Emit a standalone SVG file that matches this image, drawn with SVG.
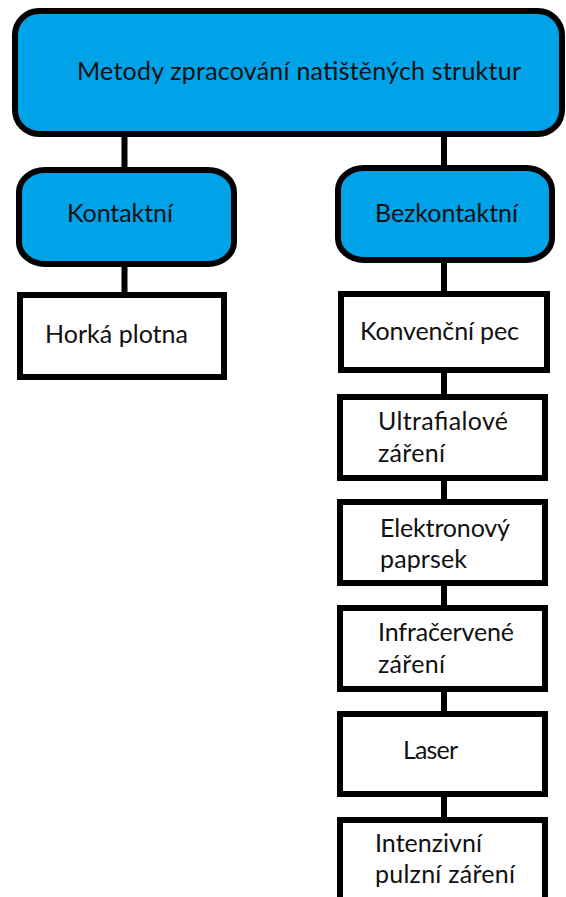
<svg xmlns="http://www.w3.org/2000/svg" width="566" height="897" viewBox="0 0 566 897">
  <style>
    .blue { fill: #00A2E8; stroke: #000; stroke-width: 6; }
    .plain { fill: #fff; stroke: #000; stroke-width: 6; }
    .wire { stroke: #000; stroke-width: 6; fill: none; }
    text { font-family: Lato, "Open Sans", "Liberation Sans", sans-serif; font-size: 25px; fill: #111; }
  </style>
  <rect width="566" height="897" fill="#fff"/>

  <g id="connectors">
    <line class="wire" x1="124.5" y1="134" x2="124.5" y2="170"/>
    <line class="wire" x1="444" y1="134" x2="444" y2="168"/>
    <line class="wire" x1="124.5" y1="264" x2="124.5" y2="295"/>
    <line class="wire" x1="444" y1="260" x2="444" y2="294"/>
    <line class="wire" x1="444" y1="370" x2="444" y2="397"/>
    <line class="wire" x1="444" y1="478" x2="444" y2="502"/>
    <line class="wire" x1="444" y1="583" x2="444" y2="608"/>
    <line class="wire" x1="444" y1="689" x2="444" y2="714"/>
    <line class="wire" x1="444" y1="794" x2="444" y2="820"/>
  </g>

  <g id="root">
    <rect class="blue" x="15" y="11" width="547" height="123" rx="24" ry="24"/>
    <text x="77" y="80" textLength="444">Metody zpracování natištěných struktur</text>
  </g>

  <g id="kontaktni">
    <rect class="blue" x="19" y="170" width="215" height="94" rx="26" ry="22"/>
    <text x="67" y="222" textLength="106">Kontaktní</text>
  </g>

  <g id="bezkontaktni">
    <rect class="blue" x="338" y="168" width="214" height="92" rx="26" ry="22"/>
    <text x="375" y="222" textLength="143">Bezkontaktní</text>
  </g>

  <g id="horka-plotna">
    <rect class="plain" x="20" y="295" width="204" height="82"/>
    <text x="45" y="343" textLength="143">Horká plotna</text>
  </g>

  <g id="konvencni-pec">
    <rect class="plain" x="341" y="294" width="206" height="76"/>
    <text x="360" y="340" textLength="159">Konvenční pec</text>
  </g>

  <g id="ultrafialove">
    <rect class="plain" x="340" y="397" width="205" height="81"/>
    <text x="378" y="430" textLength="130">Ultrafialové</text>
    <text x="378" y="462" textLength="67">záření</text>
  </g>

  <g id="elektronovy">
    <rect class="plain" x="340" y="502" width="205" height="81"/>
    <text x="380" y="537" textLength="130">Elektronový</text>
    <text x="380" y="568" textLength="87">paprsek</text>
  </g>

  <g id="infracervene">
    <rect class="plain" x="340" y="608" width="205" height="81"/>
    <text x="378" y="641" textLength="136">Infračervené</text>
    <text x="378" y="673" textLength="67">záření</text>
  </g>

  <g id="laser">
    <rect class="plain" x="340" y="714" width="205" height="80"/>
    <text x="403" y="759" textLength="55">Laser</text>
  </g>

  <g id="intenzivni">
    <rect class="plain" x="340" y="820" width="205" height="100"/>
    <text x="375" y="852" textLength="107">Intenzivní</text>
    <text x="375" y="883" textLength="140">pulzní záření</text>
  </g>
</svg>
